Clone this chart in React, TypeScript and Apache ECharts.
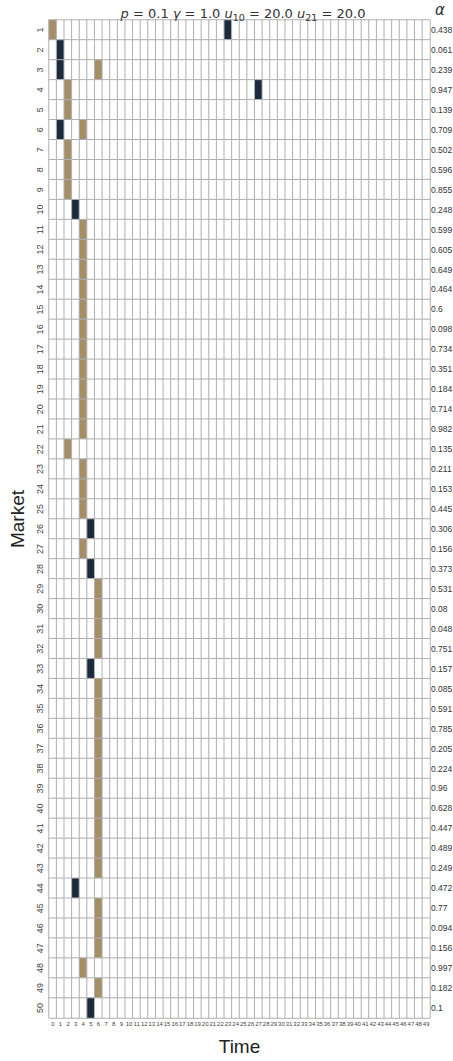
import React, { useEffect, useRef } from "react";
import * as echarts from "echarts";

// Time steps 0..49 and markets 1..50
const timeLabels: string[] = Array.from({ length: 50 }, (_, i) => String(i));
const marketLabels: string[] = Array.from({ length: 50 }, (_, i) => String(i + 1));

// Per-market alpha values (right-hand labels)
const alphas: string[] = [
  "0.438", "0.061", "0.239", "0.947", "0.139", "0.709", "0.502", "0.596", "0.855", "0.248",
  "0.599", "0.605", "0.649", "0.464", "0.6", "0.098", "0.734", "0.351", "0.184", "0.714",
  "0.982", "0.135", "0.211", "0.153", "0.445", "0.306", "0.156", "0.373", "0.531", "0.08",
  "0.048", "0.751", "0.157", "0.085", "0.591", "0.785", "0.205", "0.224", "0.96", "0.628",
  "0.447", "0.489", "0.249", "0.472", "0.77", "0.094", "0.156", "0.997", "0.182", "0.1",
];

// [market, time] pairs for entry events (tan)
const entryCells: [number, number][] = [
  [1, 0], [3, 6], [4, 2], [5, 2], [6, 4], [7, 2], [8, 2], [9, 2],
  [11, 4], [12, 4], [13, 4], [14, 4], [15, 4], [16, 4], [17, 4], [18, 4], [19, 4], [20, 4], [21, 4],
  [22, 2], [23, 4], [24, 4], [25, 4], [27, 4],
  [29, 6], [30, 6], [31, 6], [32, 6],
  [34, 6], [35, 6], [36, 6], [37, 6], [38, 6], [39, 6], [40, 6], [41, 6], [42, 6], [43, 6],
  [45, 6], [46, 6], [47, 6], [48, 4], [49, 6],
];

// [market, time] pairs for exit events (navy)
const exitCells: [number, number][] = [
  [1, 23], [2, 1], [3, 1], [4, 27], [6, 1], [10, 3], [26, 5], [28, 5], [33, 5], [44, 3], [50, 5],
];

const TAN = "#a68e67";
const NAVY = "#1b2b3e";

const GRID_LEFT = 43;
const GRID_WIDTH = 387;

export default function App() {
  const ref = useRef<HTMLDivElement>(null);

  useEffect(() => {
    if (!ref.current) return;
    const chart = echarts.init(ref.current, undefined, { renderer: "svg" });

    const state = new Map<string, number>();
    entryCells.forEach(([m, t]) => state.set(`${m}-${t}`, 1));
    exitCells.forEach(([m, t]) => state.set(`${m}-${t}`, 2));
    const data: number[][] = [];
    for (let m = 1; m <= marketLabels.length; m++) {
      for (let t = 0; t < timeLabels.length; t++) {
        data.push([t, m - 1, state.get(`${m}-${t}`) ?? 0]);
      }
    }

    chart.setOption({
      animation: false,
      backgroundColor: "#ffffff",
      title: {
        text: "{i|p} = 0.1 {i|γ} = 1.0 {i|u}{s|10} = 20.0 {i|u}{s|21} = 20.0",
        left: 238,
        textAlign: "center",
        top: -1,
        textStyle: {
          fontFamily: "DejaVu Sans",
          fontSize: 13,
          fontWeight: "normal",
          color: "#333333",
          rich: {
            i: { fontFamily: "DejaVu Sans", fontStyle: "italic", fontSize: 13, color: "#333333" },
            s: { fontFamily: "DejaVu Sans", fontSize: 9.5, color: "#333333", padding: [8, 0, 0, 0] },
          },
        },
      },
      grid: { left: GRID_LEFT, top: 20, width: GRID_WIDTH, height: 1007 },
      xAxis: {
        type: "category",
        data: timeLabels,
        name: "Time",
        nameLocation: "middle",
        nameGap: 19,
        nameMoveOverlap: false,
        nameTextStyle: { fontFamily: "Liberation Sans", fontSize: 19, color: "#222222" },
        axisLine: { show: false },
        axisTick: { show: false },
        splitLine: { show: false },
        axisLabel: {
          interval: 0,
          fontSize: 6,
          margin: 3,
          color: "#444444",
          fontFamily: "Liberation Sans",
        },
      },
      yAxis: {
        type: "category",
        data: marketLabels,
        inverse: true,
        name: "Market",
        nameLocation: "middle",
        nameGap: 22,
        nameMoveOverlap: false,
        nameTextStyle: { fontFamily: "Liberation Sans", fontSize: 19, color: "#222222" },
        axisLine: { show: false },
        axisTick: { show: false },
        splitLine: { show: false },
        axisLabel: {
          interval: 0,
          rotate: 90,
          fontSize: 9,
          margin: 5,
          color: "#444444",
          fontFamily: "Liberation Sans",
        },
      },
      visualMap: {
        type: "piecewise",
        show: false,
        dimension: 2,
        pieces: [
          { value: 0, color: "#ffffff" },
          { value: 1, color: TAN },
          { value: 2, color: NAVY },
        ],
      },
      series: [
        {
          type: "heatmap",
          data,
          itemStyle: { borderColor: "#b0b0b0", borderWidth: 1 },
          emphasis: { disabled: true },
        },
      ],
    });

    // Alpha column to the right of the grid, one label per market row
    const labelX = GRID_LEFT + GRID_WIDTH + 1;
    const alphaTexts = alphas.map((a, i) => {
      const y = chart.convertToPixel({ yAxisIndex: 0 }, marketLabels[i]) as number;
      return {
        type: "text",
        x: labelX,
        y,
        style: {
          text: a,
          font: "8.5px Liberation Sans",
          fill: "#333333",
          verticalAlign: "middle",
          align: "left",
        },
      };
    });
    chart.setOption({
      graphic: [
        {
          type: "text",
          x: 435,
          y: 2,
          style: {
            text: "α",
            font: "italic 15px DejaVu Sans",
            fill: "#333333",
          },
        },
        ...alphaTexts,
      ],
    });

    return () => chart.dispose();
  }, []);

  return (
    <div
      ref={ref}
      style={{ position: "fixed", left: 0, top: 0, width: 453, height: 1061 }}
    />
  );
}
